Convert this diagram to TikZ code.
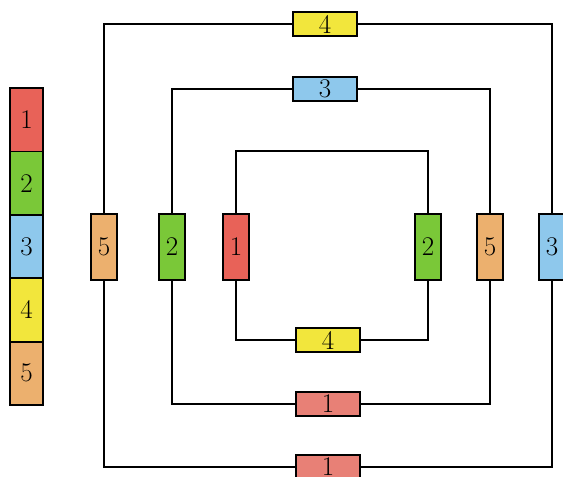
\documentclass[tikz,border=0pt]{standalone}
\definecolor{cred}{RGB}{232,98,88}
\definecolor{cpink}{RGB}{232,128,118}
\definecolor{cgreen}{RGB}{122,200,56}
\definecolor{cblue}{RGB}{142,200,236}
\definecolor{cyellow}{RGB}{242,230,60}
\definecolor{corange}{RGB}{236,176,110}
\tikzset{
  wire/.style={line width=1.4pt, black},
  hbox/.style={draw, line width=1.8pt, minimum width=64pt, minimum height=24pt, inner sep=0pt, font=\fontsize{27}{30}\selectfont},
  vbox/.style={draw, line width=1.8pt, minimum width=26pt, minimum height=66pt, inner sep=0pt, font=\fontsize{27}{30}\selectfont},
  lbox/.style={draw, line width=1.8pt, minimum width=33pt, minimum height=63.4pt, inner sep=0pt, font=\fontsize{27}{30}\selectfont},
}
\begin{document}
\begin{tikzpicture}[x=1pt,y=-1pt]
\useasboundingbox (0,0) rectangle (563,477);
% legend
\node[lbox, fill=cred]    (l1) at (26.5,119.7) {1};
\node[lbox, fill=cgreen]  (l2) at (26.5,183.1) {2};
\node[lbox, fill=cblue]   (l3) at (26.5,246.5) {3};
\node[lbox, fill=cyellow] (l4) at (26.5,309.9) {4};
\node[lbox, fill=corange] (l5) at (26.5,373.3) {5};
% outer loop boxes
\node[hbox, fill=cyellow] (o4) at (325,24) {4};
\node[vbox, fill=corange] (o5) at (104,247) {5};
\node[vbox, fill=cblue]   (o3) at (552,247) {3};
\node[hbox, fill=cpink]   (o1) at (328,467) {1};
% middle loop boxes
\node[hbox, fill=cblue]   (m3) at (325,89) {3};
\node[vbox, fill=cgreen]  (m2) at (172,247) {2};
\node[vbox, fill=corange] (m5) at (490,247) {5};
\node[hbox, fill=cpink]   (m1) at (328,404) {1};
% inner loop boxes
\node[vbox, fill=cred]    (i1) at (236,247) {1};
\node[vbox, fill=cgreen]  (i2) at (428,247) {2};
\node[hbox, fill=cyellow] (i4) at (328,340) {4};
\coordinate (itl) at (236,151);
\coordinate (itr) at (428,151);
% wires
\draw[wire] (o4.west) -| (o5.north);
\draw[wire] (o5.south) |- (o1.west);
\draw[wire] (o1.east) -| (o3.south);
\draw[wire] (o3.north) |- (o4.east);
\draw[wire] (m3.west) -| (m2.north);
\draw[wire] (m2.south) |- (m1.west);
\draw[wire] (m1.east) -| (m5.south);
\draw[wire] (m5.north) |- (m3.east);
\draw[wire] (i1.north) -- (itl) -- (itr) -- (i2.north);
\draw[wire] (i1.south) |- (i4.west);
\draw[wire] (i4.east) -| (i2.south);
\end{tikzpicture}
\end{document}
